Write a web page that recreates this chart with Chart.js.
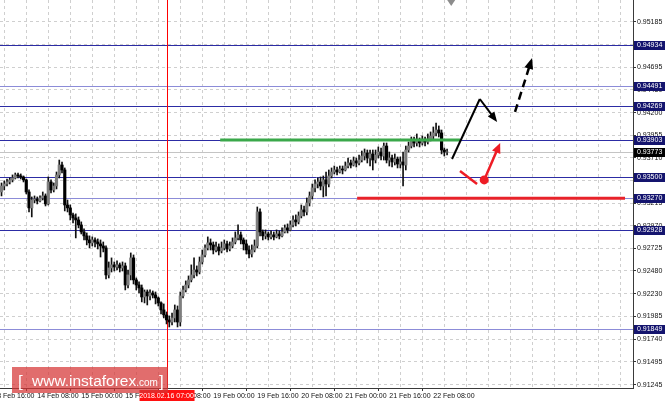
<!DOCTYPE html>
<html>
<head>
<meta charset="utf-8">
<script src="https://cdn.jsdelivr.net/npm/chart.js@4.4.1/dist/chart.umd.min.js"></script>
<style>
  html, body { margin: 0; padding: 0; background: #fff; }
  #wrap { width: 665px; height: 402px; }
</style>
</head>
<body>
<div id="wrap"><canvas id="chart" width="665" height="402"></canvas></div>
<script>
// H1 candles, one entry per bar (bar index = x value)
const opens = [
  0.93338,0.93403,0.93425,0.93447,0.93469,0.93490,0.93523,0.93512,0.93501,0.93469,
  0.93338,0.93165,0.93251,0.93262,0.93241,0.93273,0.93295,0.93208,0.93447,0.93360,
  0.93403,0.93523,0.93631,0.93577,0.93197,0.93165,0.93089,0.93056,0.93034,0.92980,
  0.92904,0.92861,0.92817,0.92785,0.92817,0.92795,0.92774,0.92752,0.92730,0.92437,
  0.92513,0.92546,0.92524,0.92546,0.92513,0.92535,0.92328,0.92437,0.92622,0.92383,
  0.92328,0.92296,0.92198,0.92252,0.92209,0.92241,0.92220,0.92187,0.92133,0.92057,
  0.92002,0.91948,0.91926,0.91970,0.92057,0.91926,0.92209,0.92274,0.92328,0.92383,
  0.92437,0.92491,0.92469,0.92578,0.92654,0.92730,0.92785,0.92763,0.92708,0.92741,
  0.92698,0.92730,0.92774,0.92719,0.92752,0.92795,0.92839,0.92872,0.92817,0.92774,
  0.92708,0.92665,0.92708,0.92752,0.93121,0.92904,0.92861,0.92882,0.92850,0.92872,
  0.92850,0.92882,0.92861,0.92904,0.92948,0.92926,0.92980,0.93034,0.93013,0.93078,
  0.93143,0.93121,0.93219,0.93295,0.93382,0.93425,0.93447,0.93403,0.93469,0.93425,
  0.93512,0.93555,0.93577,0.93555,0.93588,0.93577,0.93620,0.93653,0.93631,0.93675,
  0.93653,0.93685,0.93729,0.93761,0.93707,0.93751,0.93685,0.93740,0.93772,0.93729,
  0.93837,0.93685,0.93707,0.93664,0.93696,0.93642,0.93664,0.93631,0.93794,0.93837,
  0.93892,0.93870,0.93903,0.93870,0.93892,0.93881,0.93913,0.93946,0.93979,0.94011,
  0.93979,0.93794,0.93772
];
const highs = [
  0.93436,0.93458,0.93479,0.93490,0.93523,0.93544,0.93544,0.93534,0.93512,0.93479,
  0.93360,0.93284,0.93295,0.93284,0.93295,0.93338,0.93317,0.93501,0.93469,0.93436,
  0.93555,0.93685,0.93664,0.93599,0.93251,0.93197,0.93110,0.93100,0.93067,0.93013,
  0.92937,0.92893,0.92861,0.92850,0.92839,0.92828,0.92817,0.92795,0.92752,0.92578,
  0.92622,0.92578,0.92589,0.92567,0.92578,0.92567,0.92491,0.92676,0.92654,0.92404,
  0.92361,0.92328,0.92274,0.92274,0.92274,0.92263,0.92252,0.92198,0.92144,0.92122,
  0.92035,0.91992,0.92024,0.92111,0.92100,0.92252,0.92317,0.92372,0.92426,0.92546,
  0.92622,0.92535,0.92632,0.92708,0.92763,0.92850,0.92828,0.92795,0.92795,0.92774,
  0.92795,0.92817,0.92806,0.92795,0.92839,0.92904,0.92980,0.92904,0.92839,0.92817,
  0.92752,0.92763,0.92817,0.93175,0.93154,0.92926,0.92926,0.92904,0.92915,0.92904,
  0.92926,0.92915,0.92948,0.92980,0.92991,0.93024,0.93078,0.93089,0.93121,0.93197,
  0.93186,0.93273,0.93338,0.93425,0.93469,0.93490,0.93501,0.93512,0.93555,0.93577,
  0.93599,0.93620,0.93609,0.93620,0.93620,0.93664,0.93707,0.93685,0.93718,0.93707,
  0.93740,0.93783,0.93805,0.93794,0.93794,0.93794,0.93794,0.93827,0.93816,0.93870,
  0.93870,0.93772,0.93740,0.93751,0.93718,0.93718,0.93772,0.93837,0.93881,0.93935,
  0.93935,0.93968,0.93924,0.93946,0.93935,0.93968,0.93990,0.94044,0.94087,0.94055,
  0.94011,0.93816,0.93805
];
const lows = [
  0.93295,0.93360,0.93403,0.93425,0.93447,0.93479,0.93490,0.93479,0.93447,0.93317,
  0.93121,0.93067,0.93219,0.93208,0.93230,0.93251,0.93186,0.93197,0.93327,0.93338,
  0.93371,0.93490,0.93544,0.93132,0.93121,0.93034,0.93002,0.92839,0.92948,0.92882,
  0.92817,0.92763,0.92730,0.92752,0.92741,0.92719,0.92632,0.92687,0.92393,0.92404,
  0.92469,0.92480,0.92491,0.92469,0.92480,0.92274,0.92296,0.92383,0.92339,0.92274,
  0.92241,0.92144,0.92133,0.92111,0.92165,0.92187,0.92122,0.92100,0.92013,0.91970,
  0.91905,0.91872,0.91894,0.91926,0.91872,0.91883,0.92187,0.92252,0.92296,0.92361,
  0.92404,0.92426,0.92448,0.92556,0.92632,0.92708,0.92708,0.92665,0.92687,0.92654,
  0.92676,0.92708,0.92687,0.92698,0.92730,0.92774,0.92817,0.92774,0.92708,0.92665,
  0.92622,0.92632,0.92687,0.92730,0.92861,0.92817,0.92828,0.92817,0.92828,0.92817,
  0.92839,0.92828,0.92850,0.92893,0.92893,0.92915,0.92958,0.92969,0.92991,0.93056,
  0.93078,0.93089,0.93186,0.93262,0.93338,0.93382,0.93360,0.93284,0.93295,0.93393,
  0.93490,0.93534,0.93523,0.93544,0.93534,0.93566,0.93599,0.93599,0.93620,0.93609,
  0.93631,0.93664,0.93685,0.93653,0.93620,0.93577,0.93653,0.93707,0.93685,0.93685,
  0.93653,0.93620,0.93609,0.93631,0.93599,0.93599,0.93403,0.93577,0.93772,0.93816,
  0.93827,0.93837,0.93827,0.93848,0.93837,0.93859,0.93892,0.93913,0.93946,0.93935,
  0.93751,0.93729,0.93740
];
const closes = [
  0.93403,0.93425,0.93447,0.93469,0.93490,0.93523,0.93512,0.93501,0.93469,0.93338,
  0.93165,0.93251,0.93262,0.93241,0.93273,0.93295,0.93208,0.93447,0.93360,0.93403,
  0.93523,0.93631,0.93577,0.93197,0.93165,0.93089,0.93056,0.93034,0.92980,0.92904,
  0.92861,0.92817,0.92785,0.92817,0.92795,0.92774,0.92752,0.92730,0.92437,0.92513,
  0.92546,0.92524,0.92546,0.92513,0.92535,0.92328,0.92437,0.92622,0.92383,0.92328,
  0.92296,0.92198,0.92252,0.92209,0.92241,0.92220,0.92187,0.92133,0.92057,0.92002,
  0.91948,0.91926,0.91970,0.92057,0.91926,0.92209,0.92274,0.92328,0.92383,0.92437,
  0.92491,0.92469,0.92578,0.92654,0.92730,0.92785,0.92763,0.92708,0.92741,0.92698,
  0.92730,0.92774,0.92719,0.92752,0.92795,0.92839,0.92872,0.92817,0.92774,0.92708,
  0.92665,0.92708,0.92752,0.93121,0.92904,0.92861,0.92882,0.92850,0.92872,0.92850,
  0.92882,0.92861,0.92904,0.92948,0.92926,0.92980,0.93034,0.93013,0.93078,0.93143,
  0.93121,0.93219,0.93295,0.93382,0.93425,0.93447,0.93403,0.93469,0.93425,0.93512,
  0.93555,0.93577,0.93555,0.93588,0.93577,0.93620,0.93653,0.93631,0.93675,0.93653,
  0.93685,0.93729,0.93761,0.93707,0.93751,0.93685,0.93740,0.93772,0.93729,0.93837,
  0.93685,0.93707,0.93664,0.93696,0.93642,0.93664,0.93631,0.93794,0.93837,0.93892,
  0.93870,0.93903,0.93870,0.93892,0.93881,0.93913,0.93946,0.93979,0.94011,0.93979,
  0.93794,0.93772,0.93773
];

// axis labels
const priceTicks = [0.95185, 0.94940, 0.94695, 0.94450, 0.94200, 0.93955, 0.93710, 0.93465,
  0.93215, 0.92970, 0.92725, 0.92480, 0.92230, 0.91985, 0.91740, 0.91495, 0.91245];
const timeTickBars = [-3, 13, 29, 45, 61, 77, 93, 109, 125, 141, 157];
const timeTickLabels = ['13 Feb 16:00', '14 Feb 08:00', '15 Feb 00:00', '15 Feb 16:00', '16 Feb 08:00',
  '19 Feb 00:00', '19 Feb 16:00', '20 Feb 08:00', '21 Feb 00:00', '21 Feb 16:00', '22 Feb 08:00'];

// horizontal levels and drawings
const levels = [0.94934, 0.94491, 0.94269, 0.93903, 0.93500, 0.93270, 0.92928, 0.91849];
const faintLevels = [0.94491, 0.93270, 0.91849];
const lastPrice = 0.93773;
const markerBar = 60;
const markerLabel = '2018.02.16 07:00';
const shiftBar = 163.5;
const greenSegment = [[79.5, 0.93903], [166.7, 0.93903]];
const redSegment = [[129.3, 0.93270], [226.7, 0.93270]];
const blackPath = [[163.8, 0.93696], [173.9, 0.94348], [180.2, 0.94098]];
const redTail = [[166.7, 0.93566], [172.9, 0.93425]];
const redPath = [[175.5, 0.93469], [181.3, 0.93870]];
const dashedPath = [[186.7, 0.94207], [192.9, 0.94793]];

const FONT = '"Liberation Sans", Arial, sans-serif';

function arrowHead(ctx, x0, y0, x1, y1, len, half) {
    const ang = Math.atan2(y1 - y0, x1 - x0);
    ctx.beginPath();
    ctx.moveTo(x1, y1);
    ctx.lineTo(x1 - len * Math.cos(ang) + half * Math.sin(ang), y1 - len * Math.sin(ang) - half * Math.cos(ang));
    ctx.lineTo(x1 - len * Math.cos(ang) - half * Math.sin(ang), y1 - len * Math.sin(ang) + half * Math.cos(ang));
    ctx.closePath();
    ctx.fill();
}

function strokePath(ctx, x, y, pts) {
    ctx.beginPath();
    pts.forEach((p, k) => {
        const px = x.getPixelForValue(p[0]), py = y.getPixelForValue(p[1]);
        if (k === 0) ctx.moveTo(px, py); else ctx.lineTo(px, py);
    });
    ctx.stroke();
}

// arrow from p0 to p1 drawn in data space, shaft stops short of the head
function arrow(ctx, x, y, p0, p1, len, half) {
    const x0 = x.getPixelForValue(p0[0]), y0 = y.getPixelForValue(p0[1]);
    const x1 = x.getPixelForValue(p1[0]), y1 = y.getPixelForValue(p1[1]);
    const a = Math.atan2(y1 - y0, x1 - x0);
    ctx.beginPath();
    ctx.moveTo(x0, y0);
    ctx.lineTo(x1 - (len - 2) * Math.cos(a), y1 - (len - 2) * Math.sin(a));
    ctx.stroke();
    ctx.setLineDash([]);
    arrowHead(ctx, x0, y0, x1, y1, len, half);
}

const overlay = {
    id: 'overlay',
    beforeDatasetsDraw(chart) {
        const { ctx, chartArea: a, scales: { x, y } } = chart;
        ctx.save();
        ctx.lineWidth = 1;
        // current bid line
        let py = Math.round(y.getPixelForValue(lastPrice)) + 0.5;
        ctx.strokeStyle = '#c4c4c4';
        ctx.beginPath(); ctx.moveTo(a.left, py); ctx.lineTo(a.right, py); ctx.stroke();
        // support / resistance levels
        levels.forEach(v => {
            py = Math.round(y.getPixelForValue(v)) + 0.5;
            ctx.strokeStyle = faintLevels.includes(v) ? '#8c8cd8' : '#2c2ca4';
            ctx.beginPath(); ctx.moveTo(a.left, py); ctx.lineTo(a.right, py); ctx.stroke();
        });
        // vertical marker line
        const mx = Math.round(x.getPixelForValue(markerBar)) + 0.5;
        ctx.strokeStyle = '#ff0000';
        ctx.beginPath(); ctx.moveTo(mx, a.top); ctx.lineTo(mx, a.bottom); ctx.stroke();
        ctx.restore();
    },
    afterDatasetsDraw(chart) {
        const { ctx, scales: { x, y } } = chart;
        ctx.save();
        ctx.lineCap = 'butt';
        // green and red horizontal segments
        ctx.lineWidth = 3;
        ctx.strokeStyle = '#3aa84a';
        strokePath(ctx, x, y, greenSegment);
        ctx.strokeStyle = '#e8222a';
        strokePath(ctx, x, y, redSegment);

        // black solid arrow
        ctx.lineWidth = 2;
        ctx.strokeStyle = '#000';
        ctx.fillStyle = '#000';
        strokePath(ctx, x, y, blackPath.slice(0, 2));
        arrow(ctx, x, y, blackPath[1], blackPath[2], 10, 4);

        // red tail and red arrow with dot
        ctx.strokeStyle = '#ee1c25';
        ctx.fillStyle = '#ee1c25';
        ctx.lineWidth = 2.5;
        strokePath(ctx, x, y, redTail);
        arrow(ctx, x, y, redPath[0], redPath[1], 10, 4.5);
        ctx.beginPath();
        ctx.arc(x.getPixelForValue(redPath[0][0]), y.getPixelForValue(redPath[0][1]), 4.5, 0, Math.PI * 2);
        ctx.fill();

        // dashed black arrow
        ctx.strokeStyle = '#000';
        ctx.fillStyle = '#000';
        ctx.lineWidth = 2.5;
        ctx.setLineDash([8, 5]);
        arrow(ctx, x, y, dashedPath[0], dashedPath[1], 11, 4.5);
        ctx.restore();
    },
    afterDraw(chart) {
        const { ctx, chartArea: a, scales: { x, y } } = chart;
        ctx.save();
        ctx.font = '7px ' + FONT;
        ctx.textBaseline = 'middle';
        // price boxes on the axis
        const box = (v, bg) => {
            const py = Math.round(y.getPixelForValue(v));
            ctx.fillStyle = bg;
            ctx.fillRect(a.right + 1, py - 4, 31, 9);
            ctx.fillStyle = '#fff';
            ctx.textAlign = 'left';
            ctx.fillText(v.toFixed(5), a.right + 4, py + 0.5);
        };
        levels.forEach(v => box(v, '#14146e'));
        box(lastPrice, '#000');

        // time marker label
        const mx = x.getPixelForValue(markerBar);
        ctx.fillStyle = '#ff1010';
        ctx.fillRect(mx - 27, a.bottom + 2, 55, 11);
        ctx.fillStyle = '#fff';
        ctx.textAlign = 'center';
        ctx.fillText(markerLabel, mx, a.bottom + 8);

        // chart shift triangle
        const sx = x.getPixelForValue(shiftBar);
        ctx.fillStyle = '#8c8c8c';
        ctx.beginPath(); ctx.moveTo(sx - 4, a.top); ctx.lineTo(sx + 4, a.top); ctx.lineTo(sx, a.top + 6); ctx.closePath(); ctx.fill();

        // watermark
        ctx.fillStyle = 'rgba(214, 52, 52, 0.72)';
        ctx.fillRect(12, 367, 156, 26);
        ctx.fillStyle = '#fff';
        ctx.textAlign = 'left';
        ctx.textBaseline = 'alphabetic';
        ctx.font = '17px ' + FONT;
        ctx.fillText('[', 18, 387);
        ctx.font = '15.5px ' + FONT;
        ctx.fillText('www.instaforex', 32, 386);
        const w = ctx.measureText('www.instaforex').width;
        ctx.font = '10px ' + FONT;
        ctx.fillText('.com', 32 + w, 386);
        ctx.font = '17px ' + FONT;
        ctx.fillText(']', 159, 387);
        ctx.restore();
    }
};

const isBull = i => closes[i] >= opens[i];

new Chart(document.getElementById('chart'), {
    type: 'bar',
    data: {
        datasets: [
            {
                label: 'body',
                data: closes.map((c, i) => ({ x: i, y: [opens[i], c] })),
                backgroundColor: ctx => isBull(ctx.dataIndex) ? '#7e7e7e' : '#000',
                borderWidth: 0,
                grouped: false,
                categoryPercentage: 1,
                barPercentage: 1,
                maxBarThickness: 2.5
            },
            {
                label: 'wick',
                data: highs.map((h, i) => ({ x: i, y: [lows[i], h] })),
                backgroundColor: '#111',
                borderWidth: 0,
                grouped: false,
                categoryPercentage: 1,
                barPercentage: 1,
                maxBarThickness: 1
            }
        ]
    },
    options: {
        responsive: false,
        animation: false,
        layout: { padding: 0 },
        plugins: { legend: { display: false }, tooltip: { enabled: false } },
        scales: {
            x: {
                type: 'linear',
                min: -0.55,
                max: 229.6,
                bounds: 'data',
                offset: false,
                afterBuildTicks: scale => {
                    const t = [];
                    for (let v = -3; v <= 229; v += 8) t.push({ value: v });
                    scale.ticks = t;
                },
                afterFit: scale => {
                    scale.height = 14;
                    scale.paddingLeft = 0;
                    scale.paddingRight = 0;
                },
                grid: {
                    color: '#cfcfcf',
                    tickLength: 3,
                    tickColor: ctx => timeTickBars.includes(ctx.tick && ctx.tick.value) ? '#333' : 'rgba(0,0,0,0)'
                },
                border: { color: '#3a3a3a', dash: [3, 3] },
                ticks: {
                    autoSkip: false,
                    maxRotation: 0,
                    align: 'start',
                    padding: 1,
                    color: '#111',
                    font: { family: FONT, size: 7 },
                    callback: v => {
                        const k = timeTickBars.indexOf(v);
                        return k >= 0 ? timeTickLabels[k] : '';
                    }
                }
            },
            y: {
                position: 'right',
                min: 0.91209,
                max: 0.95423,
                afterBuildTicks: scale => {
                    scale.ticks = priceTicks.map(v => ({ value: v }));
                },
                afterFit: scale => {
                    scale.width = 32;
                    scale.paddingTop = 0;
                    scale.paddingBottom = 0;
                },
                grid: { color: '#cfcfcf', tickLength: 3, tickColor: '#333' },
                border: { color: '#3a3a3a', dash: [3, 3] },
                ticks: {
                    padding: 1,
                    color: '#111',
                    font: { family: FONT, size: 7 },
                    callback: v => v.toFixed(5)
                }
            }
        }
    },
    plugins: [overlay]
});
</script>
</body>
</html>
